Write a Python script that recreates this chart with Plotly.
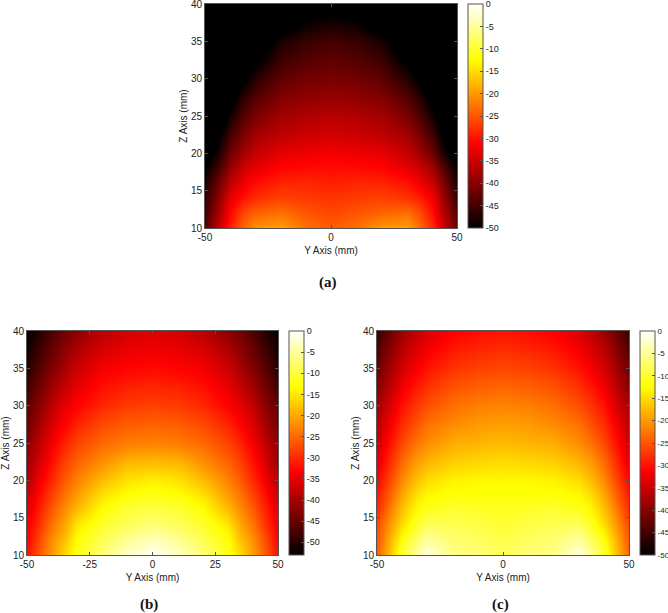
import plotly.graph_objects as go

W = 668
H = 613
PAD = 10  # paper above the window, so the top tick labels are not dropped

y_axis = [-50, -45, -40, -35, -30, -20, -10, 0, 10, 20, 30, 35, 40, 45, 50]
z_axis = [10, 12, 14, 16, 18, 20, 22.5, 25, 27.5, 30, 35, 40]

# dB values, one row per z_axis entry
field_a = [
    [-43, -36, -29, -24, -20.5, -19.5, -23, -24.5, -23, -20, -19.5, -23, -28, -35, -42],
    [-45, -38, -31, -26, -24, -23, -25, -26, -25, -24, -23, -25.5, -30, -37, -44],
    [-46, -40, -33, -30, -28, -26.5, -27, -27.5, -27, -26.5, -27.5, -29, -32, -39, -46],
    [-48, -42, -36, -32.5, -30.5, -28.5, -28.5, -29, -28.5, -28.5, -30, -32, -35, -41, -48],
    [-50, -45, -39, -35, -33, -31, -30.5, -30.5, -30.5, -31, -33, -35, -38, -44, -50],
    [-53, -48, -42, -38, -35.5, -33, -32.5, -32, -32.5, -33, -35.5, -38, -42, -48, -53],
    [-57, -51, -45, -41, -38, -36, -35, -34.5, -35, -36, -38, -41, -45, -51, -57],
    [-60, -55, -48.5, -44, -41, -38, -37, -36.5, -37, -38, -41, -44, -48.5, -55, -60],
    [-64, -58, -52, -47, -44, -40.5, -39.5, -39, -39.5, -40.5, -44, -47, -52, -58, -64],
    [-68, -62, -56, -51, -47, -43, -41.5, -41, -41.5, -43, -47, -51, -56, -62, -68],
    [-78, -72, -66, -60, -55, -48, -46, -45, -46, -48, -55, -60, -66, -72, -78],
    [-90, -84, -78, -72, -66, -59, -53, -52, -53, -59, -66, -72, -78, -84, -90],
]
field_b = [
    [-32, -26, -21, -16, -12, -7, -3, -0.5, -3, -7, -12, -16, -21, -26, -32],
    [-33, -27, -22, -18, -13, -9, -5.5, -3.5, -5.5, -9, -13, -18, -22, -27, -33],
    [-34, -29, -24, -20, -15, -11, -8.5, -7, -8.5, -11, -15, -20, -24, -29, -34],
    [-35.5, -30.5, -26, -22, -18.5, -13, -10.5, -9.5, -10.5, -13, -18.5, -22, -26, -30.5, -35.5],
    [-37, -32, -28, -24, -21, -15.5, -13, -12, -13, -15.5, -21, -24, -28, -32, -37],
    [-39, -34, -30, -26, -23, -18.5, -15.5, -14.5, -15.5, -18.5, -23, -26, -30, -34, -39],
    [-41, -36, -32, -28, -25.5, -22, -19, -18.5, -19, -22, -25.5, -28, -32, -36, -41],
    [-42, -38, -34, -30.5, -28, -25, -23.5, -23, -23.5, -25, -28, -30.5, -34, -38, -42],
    [-44, -40, -36, -33, -30.5, -27.5, -26, -25.5, -26, -27.5, -30.5, -33, -36, -40, -44],
    [-45.5, -42, -38, -35, -33, -30, -28.5, -28, -28.5, -30, -33, -35, -38, -42, -45.5],
    [-50, -46, -43, -40, -37, -34, -33, -32.5, -33, -34, -37, -40, -43, -46, -50],
    [-53, -50, -47, -44, -42, -38.5, -36.5, -36, -36.5, -38.5, -42, -44, -47, -50, -53],
]
field_c = [
    [-24, -17, -10, -5, -1.5, -6, -6.5, -8, -6.5, -6, -1.5, -5, -10, -17, -24],
    [-25, -18, -12, -8, -4.5, -7, -8, -9, -8, -7, -4.5, -8, -12, -18, -25],
    [-26, -20, -15, -11, -8, -8.5, -9, -10, -9, -8.5, -8, -11, -15, -20, -26],
    [-28, -22, -17, -13, -11, -10, -10.5, -11, -10.5, -10, -11, -13, -17, -22, -28],
    [-29.5, -24, -19, -15, -13, -12, -12, -12, -12, -12, -13, -15, -19, -24, -29.5],
    [-31, -26, -21, -17.5, -15, -13.5, -13, -13, -13, -13.5, -15, -17.5, -21, -26, -31],
    [-33, -28, -23.5, -20, -18, -16, -15.5, -15, -15.5, -16, -18, -20, -23.5, -28, -33],
    [-35, -30, -26, -23, -21, -18.5, -18, -17.5, -18, -18.5, -21, -23, -26, -30, -35],
    [-36.5, -32, -28, -25.5, -23, -21, -20, -19.5, -20, -21, -23, -25.5, -28, -32, -36.5],
    [-38, -34, -30, -27.5, -25.5, -23, -22, -21.5, -22, -23, -25.5, -27.5, -30, -34, -38],
    [-42, -38, -34.5, -32, -30, -27.5, -26.5, -26, -26.5, -27.5, -30, -32, -34.5, -38, -42],
    [-46, -42, -38.5, -36, -34, -31.5, -30.5, -30, -30.5, -31.5, -34, -36, -38.5, -42, -46],
]

hot = [[0, "#000000"], [0.375, "#ff0000"], [0.75, "#ffff00"], [1, "#ffffff"]]
cbar_ticks = [0, -5, -10, -15, -20, -25, -30, -35, -40, -45, -50]
z_ticks = [10, 15, 20, 25, 30, 35, 40]
frame = "#555555"
txt = "#222222"
FH = H + PAD


def up(py):
    # window pixel row to paper fraction
    return 1 - (py + PAD) / FH


# name, data, colour low end, x ticks, plot box (left, right, top, bottom px), colourbar left, bar font
panels = [
    ("", field_a, -50, [-50, 0, 50], (205, 457, 4, 228), 468, 9),
    ("2", field_b, -53, [-50, -25, 0, 25, 50], (27, 278, 331, 555), 289, 9),
    ("3", field_c, -50, [-50, 0, 50], (377, 629, 331, 555), 640, 8),
]

fig = go.Figure()
for name, field, low, xt, box, cb_left, cb_size in panels:
    left, right, top, bottom = box
    fig.add_trace(go.Heatmap(
        x=y_axis, y=z_axis, z=field, zmin=low, zmax=0, zsmooth="best",
        colorscale=hot, xaxis="x" + name, yaxis="y" + name,
        colorbar=dict(
            x=cb_left / W, xanchor="left", xpad=0, ypad=0,
            y=up(bottom), yanchor="bottom", len=(bottom - top) / FH,
            thickness=15, outlinecolor=frame, outlinewidth=1,
            tickmode="array", tickvals=cbar_ticks, ticktext=[str(v) for v in cbar_ticks],
            ticks="inside", ticklen=3, tickcolor=frame,
            tickfont=dict(size=cb_size, color=txt, family="Liberation Sans"),
        ),
    ))
    fig.layout["xaxis" + name] = dict(
        domain=[left / W, right / W], range=[-50, 50], anchor="y" + name,
        tickmode="array", tickvals=xt, ticktext=[str(v) for v in xt],
        ticks="inside", ticklen=3,
        showgrid=False, zeroline=False, showline=True, mirror="ticks",
        linecolor=frame, tickcolor=frame, title=dict(text="Y Axis (mm)", standoff=4),
    )
    fig.layout["yaxis" + name] = dict(
        domain=[up(bottom), up(top)], range=[10, 40], anchor="x" + name,
        tickmode="array", tickvals=z_ticks, ticks="inside", ticklen=3,
        showgrid=False, zeroline=False, showline=True, mirror="ticks",
        linecolor=frame, tickcolor=frame, title=dict(text="Z Axis (mm)", standoff=1),
    )

for label, px, py in [("(a)", 328, 283), ("(b)", 149, 604), ("(c)", 500, 604)]:
    fig.add_annotation(
        x=px / W, y=up(py), xref="paper", yref="paper", text="<b>%s</b>" % label,
        xanchor="center", yanchor="middle", showarrow=False,
        font=dict(family="Liberation Serif", size=15, color="#111111"),
    )

fig.update_layout(
    width=W, height=FH, margin=dict(l=0, r=0, t=0, b=0, autoexpand=False),
    paper_bgcolor="white", plot_bgcolor="white",
    font=dict(family="Liberation Sans", size=10, color=txt),
)
fig.update_xaxes(title_font_size=10, tickfont_size=10)
fig.update_yaxes(title_font_size=10, tickfont_size=10)
fig.write_html("out.html", config={"displayModeBar": False},
               post_script="document.body.style.margin='-%dpx 0 0 0';" % PAD)
